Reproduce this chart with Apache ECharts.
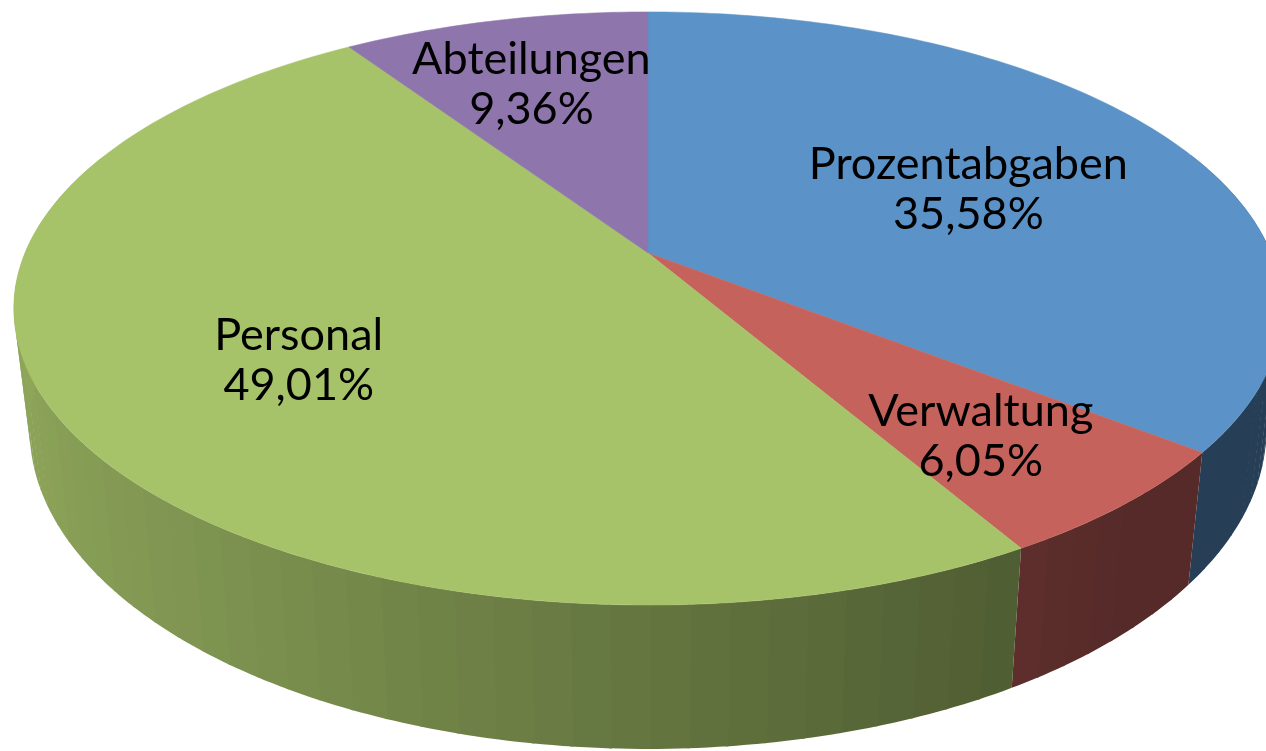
<!DOCTYPE html>
<html>
<head>
<meta charset="utf-8">
<title>Ausgaben</title>
<script src="https://cdn.jsdelivr.net/npm/echarts@6/dist/echarts.min.js"></script>
<style>
  html, body { margin: 0; padding: 0; background: #fff; }
  #chart { width: 1266px; height: 751px; }
</style>
</head>
<body>
<div id="chart"></div>
<script>
// slices, clockwise from 12 o'clock
const categories = ['Prozentabgaben', 'Verwaltung', 'Personal', 'Abteilungen']
const shares = [35.58, 6.05, 49.01, 9.36]
const colors = ['#5B92C7', '#C6625C', '#A7C36A', '#8E76AD']

// where each label sits, as a fraction of the radius
const labelRadius = [0.6, 0.73, 0.62, 0.73]

// tilted disc (simple perspective)
const CX = 648
const CY = 253
const RX = 623
const RY = 286.2
const K = 0.187
const DEPTH = 117
const SHRINK = 0.975

const total = shares.reduce((a, b) => a + b, 0)
const starts = []
let acc = 0
shares.forEach(v => {
  starts.push(acc / total * Math.PI * 2)
  acc += v
})

function rimPoint(theta, r) {
  const u = r * Math.sin(theta)
  const v = -r * Math.cos(theta)
  const d = 1 - K * v
  return [CX + RX * u / d, CY + RY * v / d]
}

function basePoint(theta) {
  const p = rimPoint(theta, 1)
  const v = -Math.cos(theta)
  return [CX + (p[0] - CX) * SHRINK, p[1] + DEPTH / (1 - K * v)]
}

function shade(hex, f) {
  const n = parseInt(hex.slice(1), 16)
  const r = Math.round(((n >> 16) & 255) * f)
  const g = Math.round(((n >> 8) & 255) * f)
  const b = Math.round((n & 255) * f)
  return 'rgb(' + r + ',' + g + ',' + b + ')'
}

function sliceRange(i) {
  const a0 = starts[i]
  const a1 = a0 + shares[i] / total * Math.PI * 2
  return [a0, a1]
}

function renderWall(params, api) {
  const i = params.dataIndex
  const [a0, a1] = sliceRange(i)
  const steps = Math.max(2, Math.ceil((a1 - a0) / (Math.PI / 60)))
  const eps = 0.004
  const children = []
  for (let s = 0; s < steps; s++) {
    const t0 = a0 + (a1 - a0) * s / steps
    const t1 = Math.min(a1, a0 + (a1 - a0) * (s + 1) / steps + eps)
    const tm = (t0 + t1) / 2
    if (-Math.cos(tm) < -0.35) continue
    const u = Math.sin(tm)
    const f = Math.min(0.9, Math.max(0.43, 0.6 - 0.25 * u))
    const pts = []
    // small arc so the facet follows the rim
    for (let j = 0; j <= 4; j++) pts.push(rimPoint(t0 + (t1 - t0) * j / 4, 1))
    for (let j = 4; j >= 0; j--) pts.push(basePoint(t0 + (t1 - t0) * j / 4))
    children.push({
      type: 'polygon',
      shape: { points: pts },
      style: { fill: shade(colors[i], f) }
    })
  }
  return { type: 'group', children: children }
}

function renderTop(params, api) {
  const i = params.dataIndex
  const [a0, a1] = sliceRange(i)
  const steps = Math.max(2, Math.ceil((a1 - a0) / (Math.PI / 180)))
  const pts = [[CX, CY]]
  for (let s = 0; s <= steps; s++) {
    pts.push(rimPoint(a0 + (a1 - a0) * s / steps, 1))
  }
  const mid = (a0 + a1) / 2
  const lp = rimPoint(mid, labelRadius[i])
  const pct = (api.value(0) / total * 100).toFixed(2).replace('.', ',') + '%'
  return {
    type: 'group',
    children: [
      {
        type: 'polygon',
        shape: { points: pts },
        style: { fill: colors[i], stroke: colors[i], lineWidth: 0.5 }
      },
      {
        type: 'text',
        z2: 10,
        style: {
          text: categories[i] + '\n' + pct,
          x: lp[0],
          y: lp[1] + 8,
          align: 'center',
          verticalAlign: 'middle',
          fontFamily: 'Lato',
          fontSize: 45,
          lineHeight: 50,
          fill: '#000'
        }
      }
    ]
  }
}

const chart = echarts.init(document.getElementById('chart'))
chart.setOption({
  animation: false,
  backgroundColor: '#fff',
  series: [
    {
      type: 'custom',
      coordinateSystem: 'none',
      z: 1,
      renderItem: renderWall,
      data: shares.map((v, i) => ({ name: categories[i], value: [v] }))
    },
    {
      type: 'custom',
      coordinateSystem: 'none',
      z: 2,
      renderItem: renderTop,
      data: shares.map((v, i) => ({ name: categories[i], value: [v] }))
    }
  ]
})
</script>
</body>
</html>
